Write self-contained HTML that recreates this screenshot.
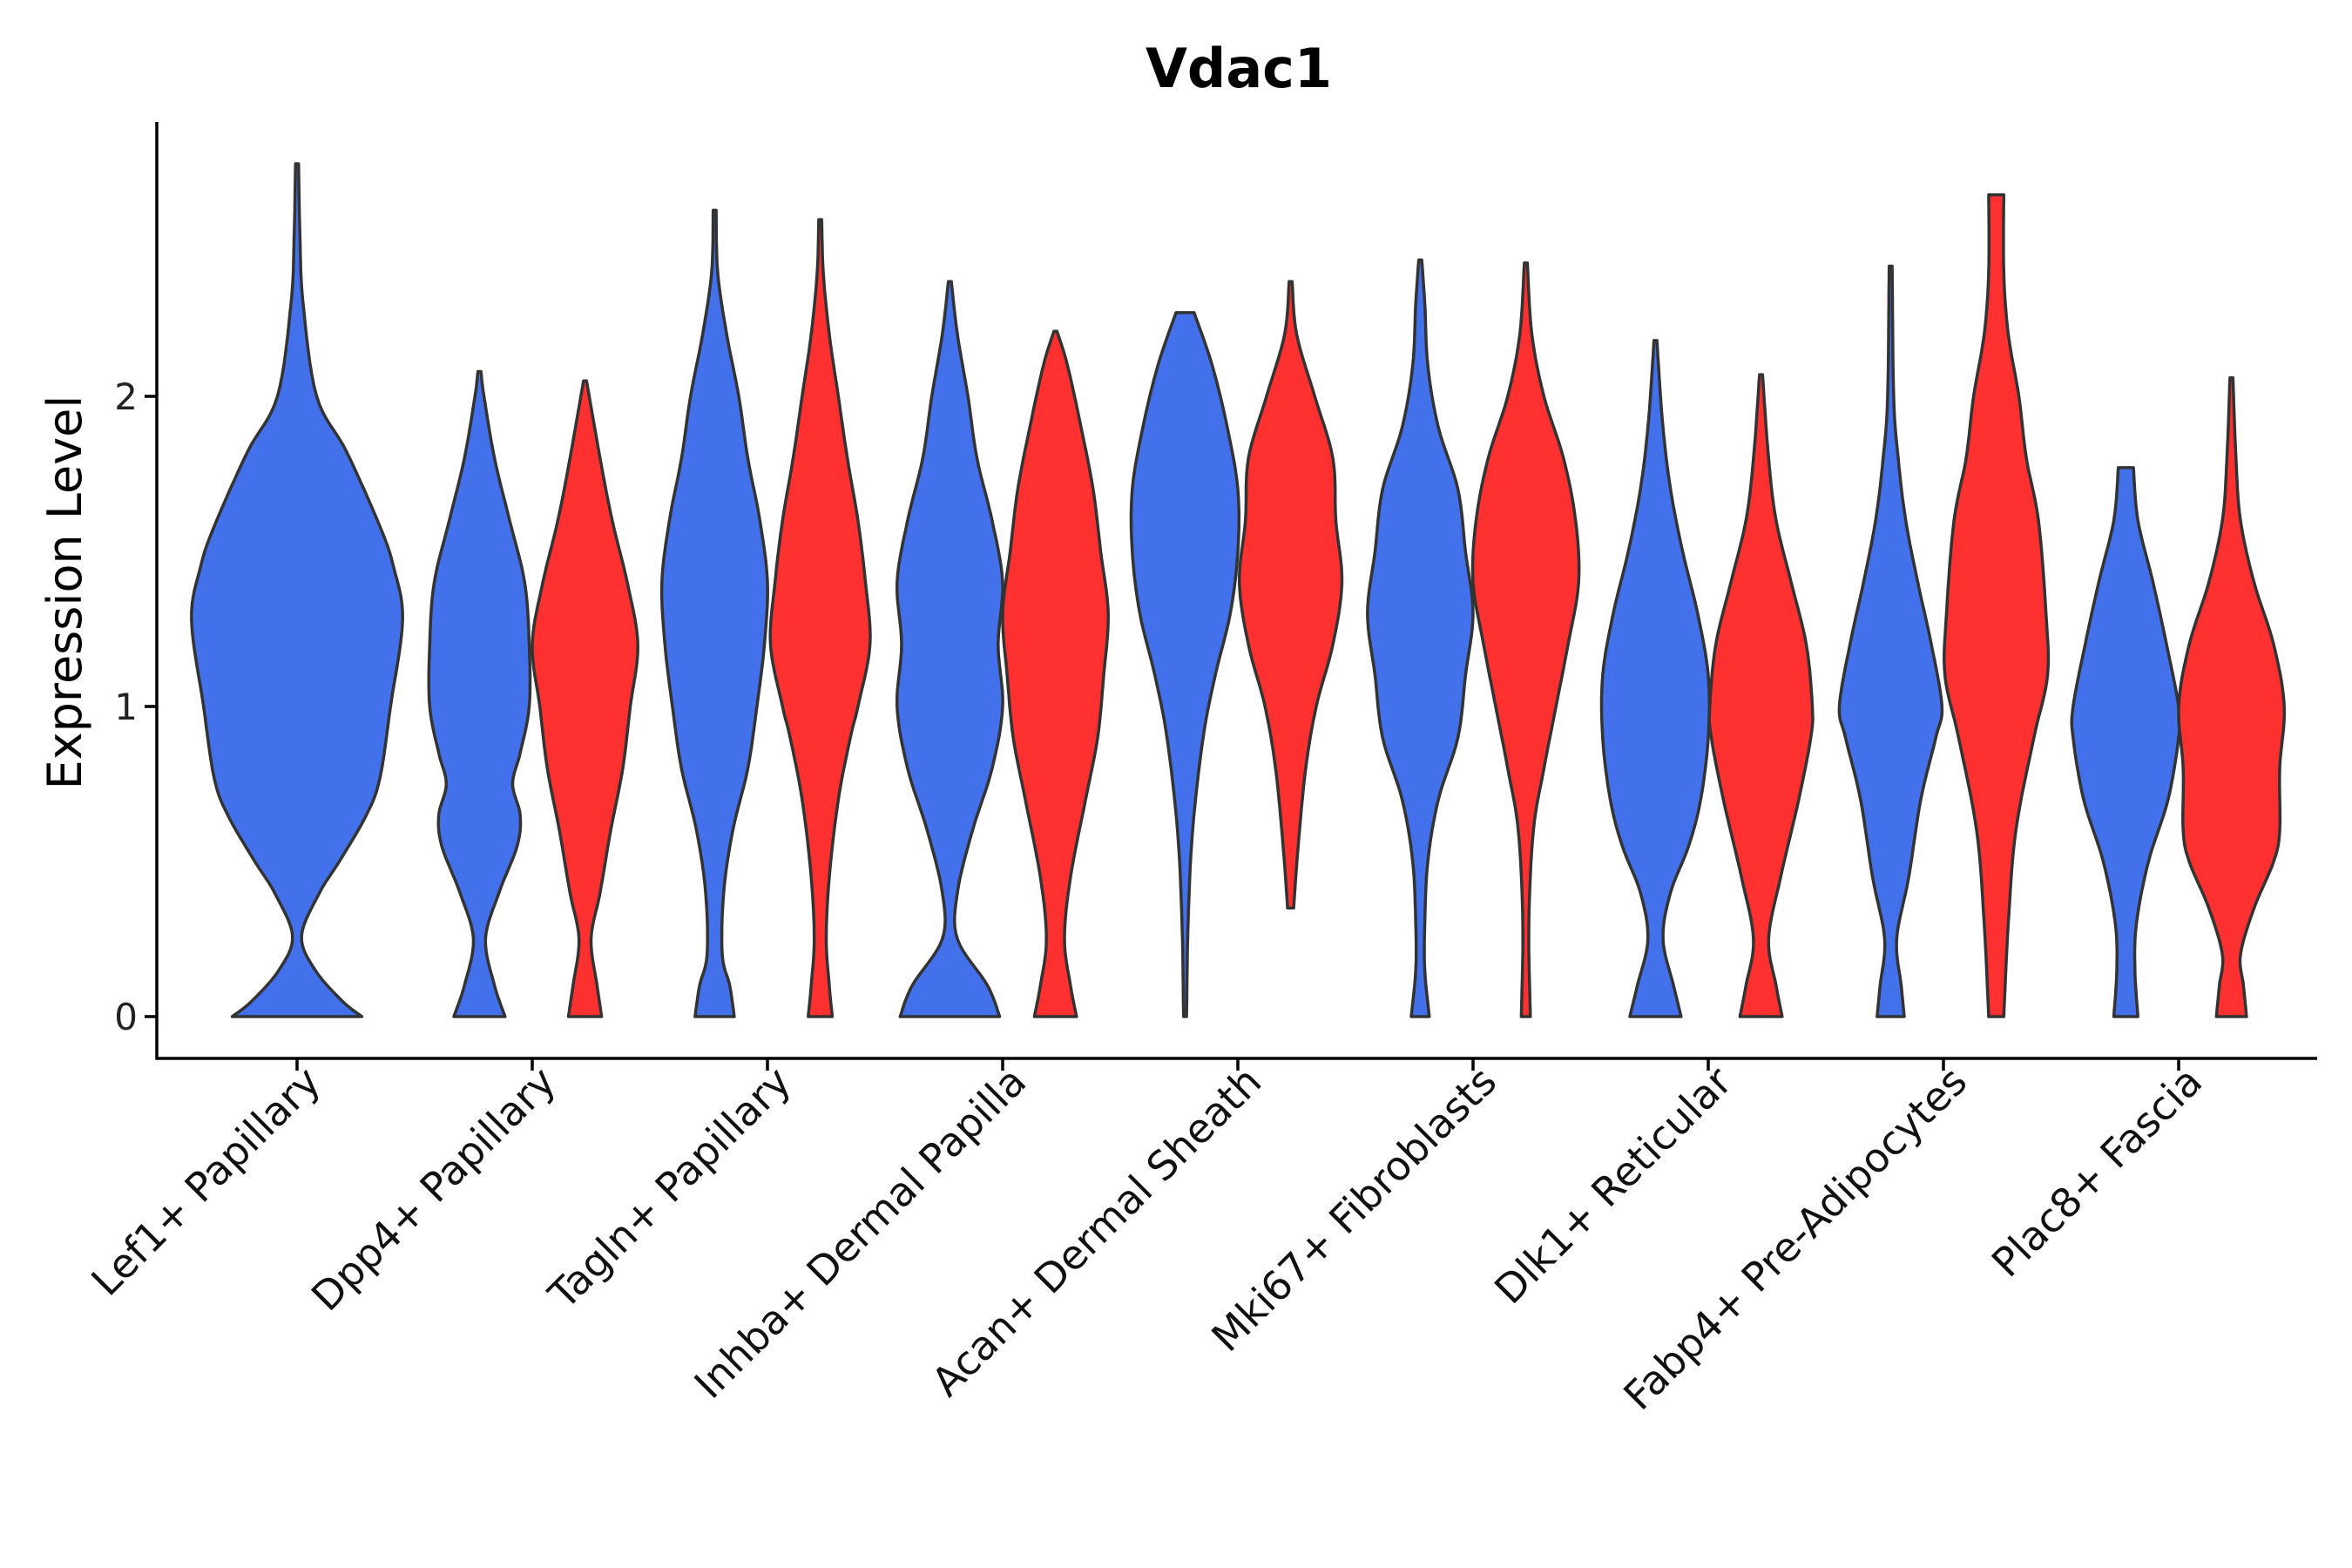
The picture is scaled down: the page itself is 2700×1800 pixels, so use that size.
<!DOCTYPE html>
<html><head><meta charset="utf-8"><style>
html,body{margin:0;padding:0;background:#fff}
svg{display:block}
text{font-family:"DejaVu Sans","Liberation Sans",sans-serif}
</style></head><body>
<svg id="chart" width="2700" height="1800" viewBox="0 0 2700 1800">
<text x="1422" y="100" text-anchor="middle" font-size="62" font-weight="bold">Vdac1</text>
<text transform="translate(93,680) rotate(-90)" text-anchor="middle" font-size="54">Expression Level</text>
<g id="violins"></g>
<g id="axes"></g>
</svg>
<script>
const categories = ["Lef1+ Papillary","Dpp4+ Papillary","Tagln+ Papillary","Inhba+ Dermal Papilla","Acan+ Dermal Sheath","Mki67+ Fibroblasts","Dlk1+ Reticular","Fabp4+ Pre-Adipocytes","Plac8+ Fascia"];
const yTicks = [0,1,2];
const lef1Blue   = [[0,43],[0.05,30],[0.15,12],[0.26,3],[0.4,15],[0.5,28],[0.65,46],[0.77,55],[1.0,62],[1.28,70],[1.45,64],[1.58,55],[1.82,33],[2.0,13],[2.3,4],[2.5,2],[2.75,1]];
const dpp4Blue   = [[0,17],[0.1,10],[0.25,4],[0.4,13],[0.55,25],[0.65,27],[0.75,22],[0.85,27],[1.0,33],[1.2,33],[1.4,30],[1.6,20],[1.8,10],[2.0,3],[2.08,1]];
const dpp4Red    = [[0,11],[0.1,8],[0.25,4],[0.4,10],[0.6,17],[0.8,25],[1.0,30],[1.2,35],[1.4,28],[1.6,18],[1.8,10],[2.05,1]];
const taglnBlue  = [[0,13],[0.1,10],[0.2,5],[0.4,6],[0.6,12],[0.8,22],[1.0,28],[1.2,33],[1.4,35],[1.6,30],[1.8,22],[2.0,16],[2.2,8],[2.4,2],[2.6,1]];
const taglnRed   = [[0,8],[0.1,6],[0.25,4],[0.45,6],[0.7,12],[0.9,20],[1.0,25],[1.2,33],[1.4,30],[1.6,25],[1.8,18],[2.0,12],[2.2,6],[2.4,2],[2.57,1]];
const inhbaBlue  = [[0,33],[0.1,25],[0.25,5],[0.4,5],[0.6,15],[0.8,28],[1.0,35],[1.2,32],[1.4,35],[1.6,28],[1.8,18],[2.0,12],[2.2,5],[2.37,1]];
const inhbaRed   = [[0,14],[0.1,10],[0.25,6],[0.45,10],[0.7,20],[0.9,28],[1.1,32],[1.3,35],[1.5,30],[1.7,25],[1.9,17],[2.1,8],[2.21,1]];
const acanBlue   = [[0,1],[0.3,2],[0.6,5],[0.9,12],[1.1,20],[1.3,30],[1.5,35],[1.7,35],[1.9,28],[2.1,18],[2.27,6]];
const acanRed    = [[0.35,2],[0.55,5],[0.8,10],[1.0,17],[1.2,28],[1.4,34],[1.6,30],[1.8,28],[2.0,16],[2.2,4],[2.37,1]];
const mki67Blue  = [[0,6],[0.15,3],[0.3,3],[0.5,5],[0.7,12],[0.9,25],[1.1,30],[1.3,35],[1.5,30],[1.7,25],[1.9,12],[2.1,5],[2.3,3],[2.44,1]];
const mki67Red   = [[0,3],[0.3,2],[0.6,5],[0.8,12],[1.0,20],[1.2,28],[1.4,35],[1.6,33],[1.8,25],[2.0,12],[2.2,4],[2.43,1]];
const dlk1Blue   = [[0,17],[0.1,12],[0.25,5],[0.4,10],[0.55,22],[0.7,30],[0.9,35],[1.1,35],[1.3,28],[1.5,18],[1.7,10],[1.9,5],[2.1,2],[2.18,1]];
const dlk1Red    = [[0,14],[0.1,10],[0.25,5],[0.45,13],[0.7,25],[0.9,33],[1.0,34],[1.2,30],[1.4,20],[1.6,10],[1.8,5],[2.07,1]];
const fabp4Blue  = [[0,9],[0.1,7],[0.25,4],[0.45,12],[0.7,20],[0.9,30],[1.0,34],[1.2,27],[1.4,18],[1.6,10],[1.8,5],[2.0,2],[2.42,1]];
const fabp4Red   = [[0,5],[0.3,8],[0.6,13],[0.9,25],[1.1,34],[1.3,33],[1.6,28],[1.8,20],[2.0,15],[2.2,8],[2.4,5],[2.65,5]];
const plac8Blue  = [[0,8],[0.15,6],[0.3,7],[0.5,15],[0.7,28],[0.9,35],[1.0,35],[1.2,27],[1.4,18],[1.6,8],[1.77,5]];
const plac8Red   = [[0,10],[0.1,8],[0.2,6],[0.35,15],[0.5,28],[0.6,32],[0.8,32],[1.0,35],[1.2,28],[1.4,15],[1.6,6],[1.8,3],[2.06,1]];
const violinCats   = [0,1,1,2,2,3,3,4,4,5,5,6,6,7,7,8,8];
const violinGroups = [0,1,2,1,2,1,2,1,2,1,2,1,2,1,2,1,2];
const violinProfiles = [lef1Blue,dpp4Blue,dpp4Red,taglnBlue,taglnRed,inhbaBlue,inhbaRed,acanBlue,acanRed,mki67Blue,mki67Red,dlk1Blue,dlk1Red,fabp4Blue,fabp4Red,plac8Blue,plac8Red];

const NS="http://www.w3.org/2000/svg";
const X0=180, XR=2660, Y0=1167, UNIT=356, AXY=1215, YTOP=140;
const y = v => Y0 - v*UNIT;
const xCat = i => 341 + i*270;
const groupOffset = g => g===0 ? 0 : (g===1 ? -60.6 : 60.6);
const wScale = 1.731;
const colors = ["#4370EB","#4370EB","#FF3030"];

function sample(knots){
  const pts=[];
  for(let k=0;k<knots.length-1;k++){
    const p0=knots[Math.max(0,k-1)],p1=knots[k],p2=knots[k+1],p3=knots[Math.min(knots.length-1,k+2)];
    for(let s=0;s<8;s++){
      const t=s/8,t2=t*t,t3=t2*t;
      const f=(a,b,c,d)=>0.5*((2*b)+(-a+c)*t+(2*a-5*b+4*c-d)*t2+(-a+3*b-3*c+d)*t3);
      pts.push([f(p0[0],p1[0],p2[0],p3[0]), Math.max(0.5,f(p0[1],p1[1],p2[1],p3[1]))]);
    }
  }
  pts.push(knots[knots.length-1]);
  return pts;
}
const gV=document.getElementById('violins');
violinProfiles.forEach((prof,i)=>{
  const cx=xCat(violinCats[i])+groupOffset(violinGroups[i]);
  const pts=sample(prof);
  let d="M"+(cx-prof[0][1]*wScale).toFixed(1)+","+y(prof[0][0]).toFixed(1);
  pts.forEach(p=>{d+=" L"+(cx-p[1]*wScale).toFixed(1)+","+y(p[0]).toFixed(1);});
  for(let j=pts.length-1;j>=0;j--){const p=pts[j];d+=" L"+(cx+p[1]*wScale).toFixed(1)+","+y(p[0]).toFixed(1);}
  d+=" Z";
  const path=document.createElementNS(NS,'path');
  path.setAttribute('d',d);
  path.setAttribute('fill',colors[violinGroups[i]]);
  path.setAttribute('stroke','#333');
  path.setAttribute('stroke-width','3.5');
  path.setAttribute('stroke-linejoin','round');
  
  
  gV.appendChild(path);
});
const gA=document.getElementById('axes');
function line(x1,y1,x2,y2,name){
  const l=document.createElementNS(NS,'line');
  l.setAttribute('x1',x1);l.setAttribute('y1',y1);l.setAttribute('x2',x2);l.setAttribute('y2',y2);
  l.setAttribute('stroke','#000');l.setAttribute('stroke-width','3.5');
  
  
  gA.appendChild(l);
}
line(X0,YTOP,X0,AXY+1.5,'y-axis-line');
line(X0-1.5,AXY,XR,AXY,'x-axis-line');
yTicks.forEach(v=>{
  line(X0-14,y(v),X0,y(v),'y-tick');
  const t=document.createElementNS(NS,'text');
  t.setAttribute('x',X0-22);t.setAttribute('y',y(v)+15);
  t.setAttribute('text-anchor','end');t.setAttribute('font-size','42');t.setAttribute('fill','#222');
  t.textContent=v;
  
  
  gA.appendChild(t);
});
categories.forEach((c,i)=>{
  const x=xCat(i);
  line(x,AXY,x,AXY+14,'x-tick');
  const t=document.createElementNS(NS,'text');
  t.setAttribute('transform','translate('+(x+4)+','+(AXY+4)+') rotate(-45)');
  t.setAttribute('text-anchor','end');t.setAttribute('font-size','46');t.setAttribute('fill','#111');
  t.setAttribute('dy','36');
  t.textContent=c;
  
  
  gA.appendChild(t);
});
</script>
</body></html>
